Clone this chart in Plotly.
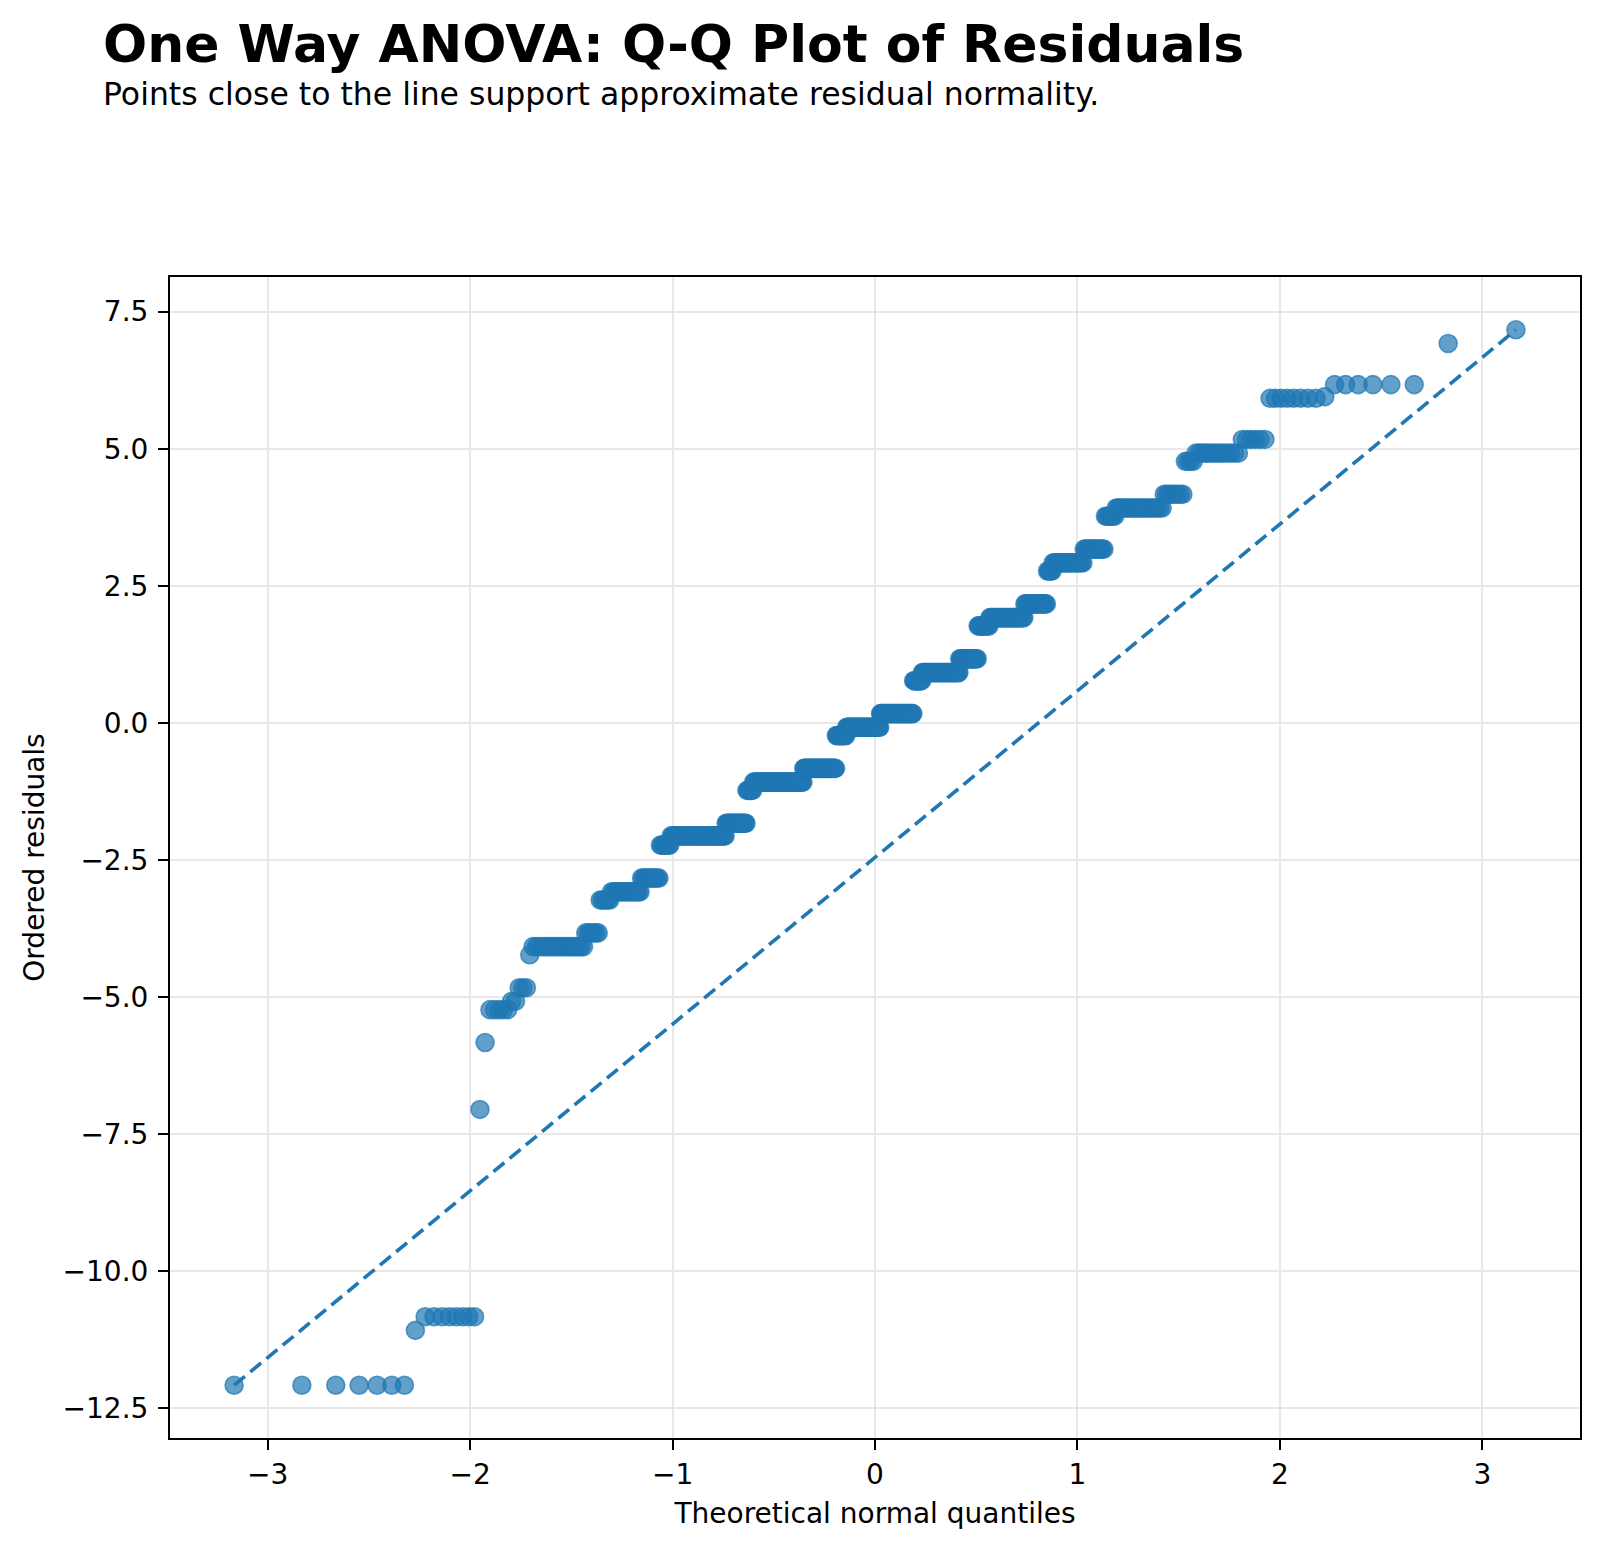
import numpy as np
import plotly.graph_objects as go
from statistics import NormalDist

# Distinct residual levels (ascending) and how many observations sit at each level
residual_levels = [-12.08, -11.08, -10.83, -7.05, -5.83, -5.23, -5.08, -4.83, -4.23, -4.08,
                   -3.83, -3.23, -3.08, -2.83, -2.23, -2.06, -1.83, -1.23, -1.08, -0.83,
                   -0.23, -0.08, 0.17, 0.77, 0.92, 1.17, 1.77, 1.92, 2.17, 2.77,
                   2.92, 3.17, 3.77, 3.92, 4.17, 4.77, 4.92, 5.17, 5.92, 5.95,
                   6.17, 6.92, 7.17]
level_counts = [7, 1, 8, 1, 1, 5, 2, 3, 1, 20,
                7, 6, 18, 13, 8, 48, 21, 7, 57, 40,
                13, 43, 42, 11, 45, 21, 13, 36, 21, 5,
                25, 15, 7, 26, 9, 4, 14, 6, 8, 1,
                6, 1, 1]

title_text = "One Way ANOVA: Q-Q Plot of Residuals"
subtitle_text = "Points close to the line support approximate residual normality."
x_label = "Theoretical normal quantiles"
y_label = "Ordered residuals"
x_tick_vals = [-3, -2, -1, 0, 1, 2, 3]
y_tick_vals = [-12.5, -10.0, -7.5, -5.0, -2.5, 0.0, 2.5, 5.0, 7.5]

# Ordered residuals and theoretical normal quantiles (plotting positions (i-0.5)/n)
residuals = np.repeat(np.array(residual_levels), level_counts)
n = len(residuals)
nd = NormalDist()
theoretical = np.array([nd.inv_cdf((i - 0.5) / n) for i in range(1, n + 1)])

# Reference line through the first and last points
line_x = [theoretical[0], theoretical[-1]]
line_y = [residuals[0], residuals[-1]]

blue = "#1f77b4"
fig = go.Figure()
fig.add_trace(go.Scatter(
    x=theoretical, y=residuals, mode="markers",
    marker=dict(size=18, color="rgba(31,119,180,0.7)",
                line=dict(color="rgba(31,119,180,0.7)", width=1.6)),
    showlegend=False, hoverinfo="x+y"))
fig.add_trace(go.Scatter(
    x=line_x, y=line_y, mode="lines",
    line=dict(color=blue, width=3.6, dash="14px,7px"),
    showlegend=False))

xpad = 0.05 * (theoretical[-1] - theoretical[0])
ypad = 0.05 * (residuals[-1] - residuals[0])

def fmt(v, dec):
    s = f"{abs(v):.{dec}f}"
    return ("\u2212" + s) if v < 0 else s

font_family = "DejaVu Sans"
axis_common = dict(
    showline=True, linecolor="black", linewidth=2, mirror=True,
    ticks="outside", ticklen=10, tickwidth=2, tickcolor="black",
    showgrid=True, gridcolor="#e8e8e8", gridwidth=2, zeroline=False,
    tickfont=dict(family=font_family, size=28, color="black"),
)

fig.update_layout(
    width=1600, height=1549,
    margin=dict(l=170, r=20, t=277, b=111),
    paper_bgcolor="white", plot_bgcolor="white",
    font=dict(family=font_family, color="black"),
    xaxis=dict(range=[theoretical[0] - xpad, theoretical[-1] + xpad],
               tickvals=x_tick_vals, ticktext=[fmt(v, 0) for v in x_tick_vals],
               title=dict(text=x_label, font=dict(family=font_family, size=28), standoff=14),
               **axis_common),
    yaxis=dict(range=[residuals[0] - ypad, residuals[-1] + ypad],
               tickvals=y_tick_vals, ticktext=[fmt(v, 1) for v in y_tick_vals],
               ticklabelstandoff=4,
               title=dict(text=y_label, font=dict(family=font_family, size=28), standoff=10),
               **axis_common),
    annotations=[
        dict(text="<b>" + title_text + "</b>", xref="paper", yref="paper",
             x=(101 - 170) / 1410, y=1 + (277 - 76) / 1161, xanchor="left", yanchor="bottom",
             showarrow=False, font=dict(family=font_family, size=52, color="black")),
        dict(text=subtitle_text, xref="paper", yref="paper",
             x=(101 - 170) / 1410, y=1 + (277 - 114) / 1161, xanchor="left", yanchor="bottom",
             showarrow=False, font=dict(family=font_family, size=31.5, color="black")),
    ],
)

fig.write_html("out.html")
